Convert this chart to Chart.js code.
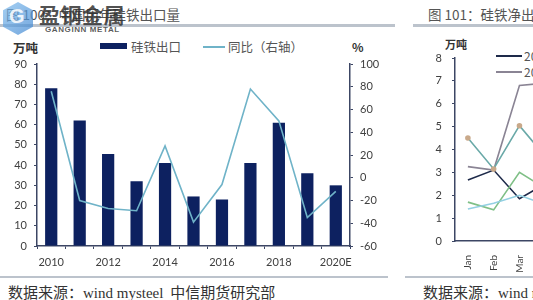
<title>硅铁出口量</title>
<script src="https://cdn.jsdelivr.net/npm/chart.js@4.4.0/dist/chart.umd.min.js"></script>
<style>
body{margin:0;width:533px;height:300px;overflow:hidden;background:#fff;position:relative;font-family:"Noto Sans CJK SC",sans-serif}
.t{position:absolute;white-space:nowrap}
.rule{position:absolute;height:3px;background:#bcc3cc}
canvas{position:absolute}
</style>

<div class=t style="left:6px;top:4px;font-size:13.5px;color:#555">图 100：中国历年硅铁出口量</div>
<div class=rule style="left:0;top:24px;width:395px"></div>
<div class=t style="left:13px;top:38px;font-size:12.5px;font-weight:bold;color:#333">万吨</div>
<div class=t style="left:352px;top:38px;font-size:12px;font-weight:bold;color:#333">%</div>
<div style="position:absolute;left:100px;top:43px;width:27px;height:6px;background:#0d2160"></div>
<div class=t style="left:131px;top:37px;font-size:12.5px;color:#555">硅铁出口</div>
<div style="position:absolute;left:203px;top:46px;width:22px;height:1.5px;background:#6fb3c8"></div>
<div class=t style="left:228px;top:37px;font-size:12.5px;color:#555">同比（右轴）</div>
<div class=rule style="left:0;top:276px;width:388px;height:2px"></div>
<div class=t style="left:8px;top:281px;font-size:15px;color:#333">数据来源：<span style="font-family:'Liberation Serif'">wind mysteel</span>&nbsp; 中信期货研究部</div>

<div class=t style="left:428px;top:4px;font-size:13.5px;color:#555">图 101：硅铁净出口量</div>
<div class=rule style="left:413px;top:24px;width:130px"></div>
<div class=t style="left:445px;top:36px;font-size:11px;font-weight:bold;color:#333">万吨</div>
<div style="position:absolute;left:496px;top:55px;width:26px;height:1.5px;background:#1e2a4a"></div>
<div class=t style="left:524px;top:47px;font-size:12px;color:#555">2020</div>
<div style="position:absolute;left:496px;top:71px;width:26px;height:1.5px;background:#8a8494"></div>
<div class=t style="left:524px;top:63px;font-size:12px;color:#555">2019</div>
<div class=rule style="left:405px;top:276px;width:130px;height:2px"></div>
<div class=t style="left:423px;top:281px;font-size:15px;color:#333">数据来源：<span style="font-family:'Liberation Serif'">wind mysteel</span></div>

<canvas id="c1" width="400" height="235" style="left:0;top:40px"></canvas>
<canvas id="c2" width="370" height="235" style="left:400px;top:40px"></canvas>

<!-- watermark -->
<div style="position:absolute;left:3px;top:2px;width:30px;height:33px;background:linear-gradient(135deg,#7dbbee,#3a82cf);clip-path:polygon(50% 0,100% 25%,100% 75%,50% 100%,0 75%,0 25%);opacity:.7"></div>
<div class=t style="left:9px;top:5px;font-size:20px;font-weight:bold;color:rgba(255,255,255,.85);font-family:'Liberation Sans'">G</div>
<div class=t style="left:39px;top:-1px;font-size:21px;font-weight:bold;color:rgba(50,50,50,.85);letter-spacing:0.5px">盈钢金属</div>
<div class=t style="left:45px;top:25px;font-size:8px;font-weight:bold;color:rgba(60,60,60,.85);font-family:'Liberation Sans';letter-spacing:0.6px">GANGINN METAL</div>

<script>
// left chart: yearly exports (10k t) and y/y change (%)
var years = ['2010','2011','2012','2013','2014','2015','2016','2017','2018','2019','2020E'];
var exportVol = [78, 62, 45.5, 32, 41, 24.5, 23, 41, 61, 36, 30];
var yoy = [76, -20, -27, -29, 28, -39, -6, 78, 50, -35, -12];

// right chart: monthly net exports (10k t)
var months = ['Jan','Feb','Mar','Apr','May','Jun','Jul','Aug','Sep','Oct','Nov','Dec'];
var net2020 = [2.67, 3.1, 1.85, 2.5];
var net2019 = [3.25, 3.1, 6.8, 6.9];
var net2018 = [4.5, 3.15, 5.04, 3.7];
var net2017 = [1.7, 1.36, 3.0, 2.3];
var net2016 = [1.4, 1.65, 2.0, 1.6];

var tickFont = {family: 'Lato', size: 11};
var tickCol = '#404040';
var axisCol = '#3c4664';

new Chart(document.getElementById('c1'), {
  type: 'bar',
  data: {
    labels: years,
    datasets: [
      {type: 'line', label: '同比（右轴）', data: yoy, yAxisID: 'y1', borderColor: '#6fb3c8', borderWidth: 1.6, pointRadius: 0, tension: 0, order: 0},
      {label: '硅铁出口', data: exportVol, yAxisID: 'y', backgroundColor: '#0d2160', categoryPercentage: 1, barPercentage: 0.43, order: 1}
    ]
  },
  options: {
    responsive: false, animation: false,
    layout: {padding: {top: 24, left: 0, right: 0, bottom: 0}},
    plugins: {legend: {display: false}, tooltip: {enabled: false}},
    scales: {
      x: {
        grid: {drawOnChartArea: false, tickLength: 3, color: axisCol, offset: true},
        border: {color: axisCol, width: 1.5},
        ticks: {autoSkip: false, maxRotation: 0, font: tickFont, color: tickCol, padding: 7,
          callback: function(v, i){ return i % 2 === 0 ? years[i] : ''; }},
        afterFit: function(s){ s.height = 29; }
      },
      y: {
        position: 'left', min: 0, max: 90,
        grid: {drawOnChartArea: false, tickLength: 3, color: axisCol},
        border: {color: axisCol, width: 1.5},
        ticks: {stepSize: 10, font: tickFont, color: tickCol, padding: 7},
        afterFit: function(s){ s.width = 37; }
      },
      y1: {
        position: 'right', min: -60, max: 100,
        grid: {drawOnChartArea: false, tickLength: 3, color: axisCol},
        border: {color: axisCol, width: 1.5},
        ticks: {stepSize: 20, font: tickFont, color: tickCol, padding: 7},
        afterFit: function(s){ s.width = 50; }
      }
    }
  }
});

function ln(label, data, col, extra){
  var d = {label: label, data: data, borderColor: col, borderWidth: 1.6, pointRadius: 0, tension: 0};
  for (var k in extra) d[k] = extra[k];
  return d;
}

new Chart(document.getElementById('c2'), {
  type: 'line',
  data: {
    labels: months,
    datasets: [
      ln('2016', net2016, '#93d0e2'),
      ln('2017', net2017, '#7fbf86'),
      ln('2018', net2018, '#6aa9a8', {pointRadius: 2, pointBackgroundColor: '#c9a98a', pointBorderColor: '#c9a98a'}),
      ln('2019', net2019, '#8a8494'),
      ln('2020', net2020, '#1e2a4a')
    ]
  },
  options: {
    responsive: false, animation: false,
    layout: {padding: {top: 18, left: 0, right: 0, bottom: 0}},
    plugins: {legend: {display: false}, tooltip: {enabled: false}},
    scales: {
      x: {
        offset: true,
        grid: {display: false},
        border: {color: axisCol, width: 1.5},
        ticks: {autoSkip: false, minRotation: 90, maxRotation: 90, font: {family: 'Lato', size: 10}, color: tickCol, padding: 6},
        afterFit: function(s){ s.height = 34; }
      },
      y: {
        min: 0, max: 8,
        grid: {drawOnChartArea: false, tickLength: 3, color: axisCol},
        border: {color: axisCol, width: 1.5},
        ticks: {stepSize: 1, font: tickFont, color: tickCol, padding: 10},
        afterFit: function(s){ s.width = 55; }
      }
    }
  }
});
</script>
